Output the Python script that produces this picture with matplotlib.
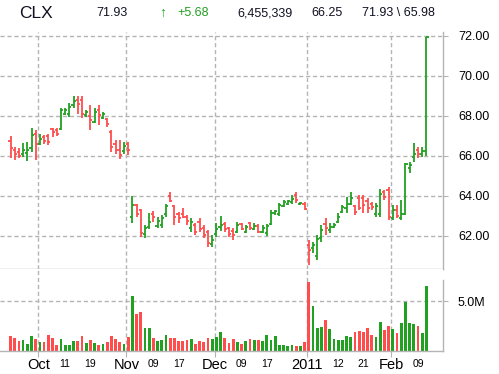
import matplotlib
matplotlib.use("Agg")
import matplotlib.pyplot as plt
import numpy as np

plt.rcParams['font.family'] = ['Liberation Sans', 'DejaVu Sans']

# ---- data ----
opens = [66.75, 66.30, 66.20, 66.10, 66.15, 66.40, 67.10, 66.60, 66.95, 67.00,
         67.35, 67.30, 67.35, 68.10, 68.10, 68.55, 68.80, 68.80, 68.05, 68.00,
         67.70, 68.30, 67.90, 67.85, 67.20, 66.60, 66.30, 66.25, 66.60, 62.93,
         63.55, 63.30, 62.10, 62.45, 63.10, 62.50, 62.55, 63.10, 64.00, 63.50,
         63.10, 63.10, 62.95, 62.40, 62.55, 62.70, 62.40, 62.20, 61.60, 62.10,
         62.45, 62.60, 62.40, 62.25, 62.20, 62.60, 62.20, 62.65, 62.35, 62.50,
         62.20, 62.15, 62.60, 63.15, 63.10, 63.50, 63.60, 63.70, 64.05, 63.60,
         63.60, 61.55, 61.40, 61.00, 61.90, 62.60, 62.30, 62.45, 62.70, 63.20,
         63.40, 63.60, 63.50, 63.90, 63.90, 63.75, 63.60, 63.10, 63.10, 64.20,
         64.30, 62.90, 63.30, 62.90, 63.10, 65.40, 65.95, 66.30, 66.10, 66.25]
highs = [67.00, 66.47, 66.38, 66.63, 66.72, 67.38, 67.30, 67.10, 67.05, 67.10,
         67.42, 67.42, 68.40, 68.40, 68.63, 69.00, 69.00, 69.00, 68.30, 68.55,
         68.38, 68.55, 68.20, 67.90, 67.30, 66.80, 66.80, 66.72, 66.72, 64.00,
         63.60, 63.33, 62.55, 63.15, 63.25, 62.97, 63.05, 63.60, 64.20, 63.55,
         63.20, 63.38, 63.05, 62.88, 62.63, 62.88, 62.55, 62.30, 62.05, 62.63,
         63.00, 62.72, 62.47, 62.38, 62.72, 62.63, 62.55, 62.72, 62.63, 62.60,
         62.55, 62.60, 63.30, 63.30, 63.65, 63.80, 63.80, 64.05, 64.20, 63.72,
         63.72, 61.80, 61.72, 62.05, 62.55, 62.88, 62.63, 62.63, 63.13, 63.55,
         63.97, 64.22, 63.55, 64.05, 64.05, 63.88, 63.70, 63.63, 64.33, 64.30,
         64.45, 63.55, 63.55, 63.80, 65.67, 65.70, 66.63, 66.47, 66.47, 71.93]
lows = [65.92, 65.80, 65.88, 65.97, 65.77, 66.20, 65.80, 66.55, 66.60, 66.55,
        66.97, 67.00, 67.30, 68.05, 67.97, 68.40, 68.10, 67.90, 67.97, 67.30,
        67.63, 67.55, 67.85, 67.45, 66.20, 66.10, 65.85, 66.10, 66.05, 62.63,
        62.97, 61.97, 61.88, 62.35, 62.70, 62.38, 62.38, 62.97, 63.70, 62.55,
        62.63, 62.88, 62.55, 62.20, 62.05, 62.20, 61.88, 61.47, 61.47, 61.97,
        62.27, 62.22, 61.97, 61.80, 62.13, 62.30, 62.13, 62.30, 62.30, 62.13,
        62.13, 62.00, 62.55, 63.05, 63.00, 63.45, 63.55, 63.60, 63.63, 63.55,
        63.30, 60.55, 61.13, 60.80, 61.72, 62.05, 62.13, 62.38, 62.63, 63.13,
        63.13, 63.55, 63.05, 63.30, 63.13, 63.13, 63.30, 62.97, 62.97, 63.80,
        62.80, 62.80, 62.88, 62.80, 63.05, 65.13, 65.72, 65.88, 65.97, 65.98]
closes = [66.40, 66.10, 66.00, 66.30, 66.30, 67.05, 66.60, 66.85, 66.75, 66.70,
          67.20, 67.10, 68.30, 68.30, 68.45, 68.75, 68.60, 68.10, 68.20, 67.80,
          68.20, 68.05, 68.10, 67.60, 66.45, 66.30, 66.05, 66.50, 66.30, 63.55,
          63.10, 62.15, 62.40, 62.70, 62.95, 62.75, 62.90, 63.50, 63.75, 62.95,
          62.90, 62.97, 62.75, 62.70, 62.20, 62.35, 62.05, 61.65, 61.80, 62.35,
          62.55, 62.35, 62.10, 62.05, 62.55, 62.35, 62.45, 62.40, 62.50, 62.20,
          62.40, 62.50, 63.15, 63.25, 63.55, 63.70, 63.75, 63.85, 63.80, 63.65,
          63.35, 61.30, 61.55, 61.85, 62.30, 62.40, 62.45, 62.55, 62.95, 63.45,
          63.60, 63.90, 63.20, 63.40, 63.55, 63.40, 63.45, 63.50, 64.10, 63.95,
          62.95, 63.30, 63.00, 63.10, 65.60, 65.55, 66.10, 66.10, 66.25, 71.93]
volumes_m = [1.5, 1.3, 1.03, 1.1, 0.7, 1.5, 1.2, 0.9, 0.9, 1.6,
             1.3, 0.6, 1.2, 0.6, 0.6, 1.0, 1.0, 1.5, 0.8, 1.1,
             0.8, 0.6, 0.7, 0.9, 1.5, 1.2, 0.9, 0.7, 1.4, 5.5,
             3.7, 3.9, 2.3, 2.3, 1.3, 1.0, 1.1, 1.6, 1.3, 1.3,
             1.0, 1.0, 1.1, 1.2, 0.7, 1.0, 0.9, 1.3, 1.2, 1.4,
             1.9, 1.3, 0.8, 1.2, 0.9, 0.7, 1.0, 1.2, 1.1, 1.1,
             1.0, 1.6, 1.1, 1.5, 0.6, 0.6, 0.5, 0.6, 0.5, 0.5,
             0.9, 6.9, 4.5, 2.3, 2.4, 3.1, 2.2, 1.2, 1.1, 1.1,
             1.5, 1.4, 1.9, 2.0, 1.9, 2.3, 1.6, 1.4, 2.9, 2.1,
             2.5, 2.2, 1.8, 2.8, 4.95, 2.8, 2.7, 2.5, 1.8, 6.455339]

month_labels = ["Oct", "Nov", "Dec", "2011", "Feb"]
month_first_idx = [7, 28, 49, 71, 91]
day_labels = ["11", "19", "09", "17", "09", "17", "12", "21", "09"]
day_idx = [13, 19, 34, 40, 55, 61, 78, 84, 97]
price_ticks = [62, 64, 66, 68, 70, 72]

header_items = [("CLX", 19, 12.5, "#111122"), ("71.93", 96, 9, "#111122"),
                ("\u2191", 159, 10, "#22a022"), ("+5.68", 177, 9, "#22a022"),
                ("6,455,339", 237, 9, "#111122"), ("66.25", 311, 9, "#111122"),
                ("71.93 \\ 65.98", 362, 9, "#111122")]

GREEN = "#22a022"
RED = "#ff4d4d"
GRID = "#b4b4b4"

W, H = 499, 374
fig = plt.figure(figsize=(W / 100, H / 100), dpi=100)

def fy(py):
    return (H - py) / H

ax = fig.add_axes([0, fy(269), 443 / W, fy(32) - fy(269)])
axv = fig.add_axes([0, fy(351), 443 / W, fy(269) - fy(351)], sharex=ax)

n = len(closes)
x = np.arange(n)
colors = [GREEN if c >= o else RED for o, c in zip(opens, closes)]

ax.vlines(x, lows, highs, colors=colors, linewidth=1.3)
ax.hlines(opens, x - 0.5, x, colors=colors, linewidth=1.3)
ax.hlines(closes, x, x + 0.5, colors=colors, linewidth=1.3)

vols = np.array(volumes_m) * 1e6
axv.bar(x, vols, width=0.66, color=colors, linewidth=0)

ax.set_xlim(-2.5, 102.95)
ax.set_ylim(60.35, 72.2)
axv.set_ylim(0, 8.2e6)

grid_x = [i - 0.4 for i in month_first_idx]
for a in (ax, axv):
    for s in ("left", "top"):
        a.spines[s].set_visible(False)
    for s in ("right", "bottom"):
        a.spines[s].set_color(GRID)
        a.spines[s].set_linewidth(1.0)
    for gx in grid_x:
        a.axvline(gx, color=GRID, linestyle=(0, (3, 2)), linewidth=1.0, zorder=0)

for yv in price_ticks:
    ax.axhline(yv, color=GRID, linestyle=(0, (3, 2)), linewidth=1.0, zorder=0)
axv.axhline(5e6, color=GRID, linestyle=(0, (3, 2)), linewidth=1.0, zorder=0)
axv.spines["right"].set_bounds(0, 7.1e6)

ax.yaxis.tick_right()
ax.set_yticks(price_ticks)
ax.set_yticklabels([f"{v:.2f}" for v in price_ticks])
ax.tick_params(axis="y", length=3.6, color=GRID, pad=7.2, labelsize=9)
ax.tick_params(axis="x", which="both", bottom=False, labelbottom=False)

axv.yaxis.tick_right()
axv.set_yticks([5e6])
axv.set_yticklabels(["5.0M"])
axv.tick_params(axis="y", length=3.6, color=GRID, pad=7.2, labelsize=9)

axv.set_xticks(grid_x)
axv.set_xticklabels(month_labels)
axv.set_xticks(day_idx, minor=True)
axv.set_xticklabels(day_labels, minor=True)
axv.tick_params(axis="x", which="major", length=4, color=GRID, pad=1.0, labelsize=10.5)
axv.tick_params(axis="x", which="minor", length=0, pad=5.5, labelsize=7.5)

for text, px, size, col in header_items:
    fig.text(px / W, fy(13), text, fontsize=size, color=col, ha="left", va="center",
             fontweight="bold" if text == "\u2191" else "normal")

fig.savefig("out.png", dpi=100)
